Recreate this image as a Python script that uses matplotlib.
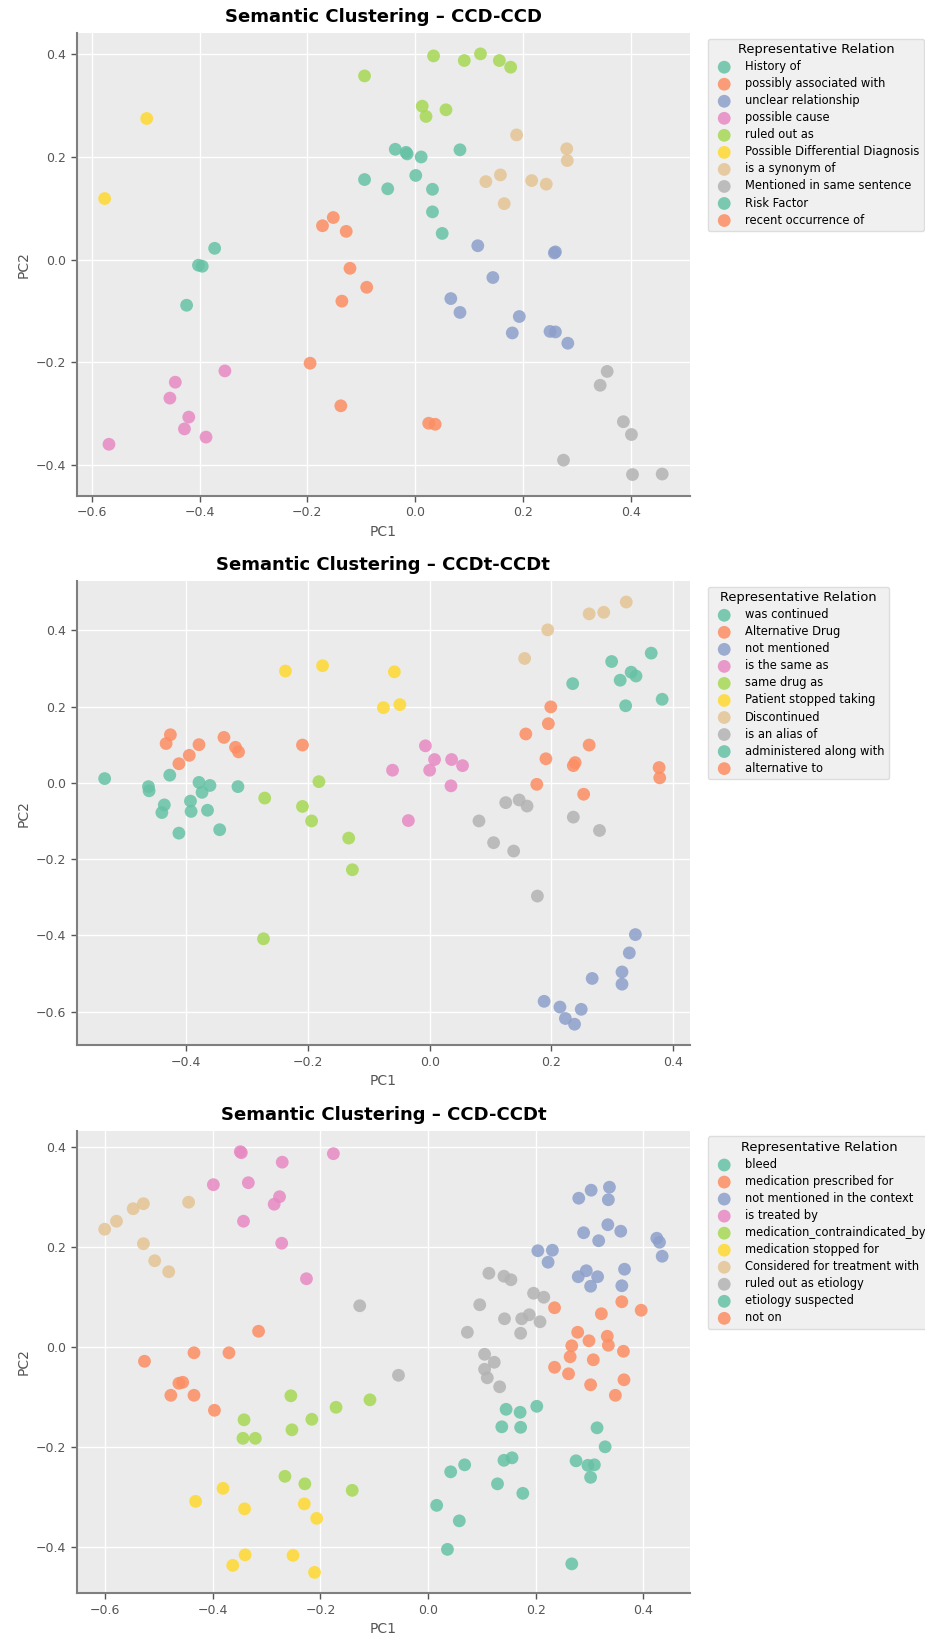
import matplotlib
matplotlib.use("Agg")
import matplotlib.pyplot as plt

# Set2 palette (wraps after 8 relations)
palette = ['#66c2a5', '#fc8d62', '#8da0cb', '#e78ac3', '#a6d854', '#ffd92f', '#e5c494', '#b3b3b3']

# ---- CCD-CCD ----
ccd_labels = ['History of', 'possibly associated with', 'unclear relationship', 'possible cause',
              'ruled out as', 'Possible Differential Diagnosis', 'is a synonym of',
              'Mentioned in same sentence', 'Risk Factor', 'recent occurrence of']
ccd_x = [
    [-0.037, -0.017, -0.015, 0.011, 0.083, -0.094, 0.001, -0.051, 0.032, 0.032, 0.050],
    [-0.152, -0.172, -0.128, -0.121, -0.090, -0.136],
    [0.116, 0.258, 0.260, 0.144, 0.066, 0.083, 0.193, 0.180, 0.250, 0.260, 0.283],
    [-0.353, -0.445, -0.455, -0.420, -0.428, -0.388, -0.568],
    [0.034, 0.121, 0.091, 0.156, 0.177, -0.094, 0.013, 0.057, 0.020],
    [-0.498, -0.576],
    [0.188, 0.281, 0.282, 0.158, 0.131, 0.216, 0.243, 0.165],
    [0.356, 0.343, 0.386, 0.401, 0.275, 0.403, 0.458],
    [-0.372, -0.402, -0.395, -0.424],
    [-0.195, -0.138, 0.025, 0.037],
]
ccd_y = [
    [0.215, 0.209, 0.206, 0.200, 0.214, 0.156, 0.164, 0.138, 0.137, 0.093, 0.051],
    [0.082, 0.066, 0.055, -0.017, -0.054, -0.081],
    [0.027, 0.013, 0.015, -0.035, -0.076, -0.103, -0.111, -0.143, -0.140, -0.141, -0.163],
    [-0.217, -0.239, -0.270, -0.307, -0.330, -0.346, -0.360],
    [0.397, 0.401, 0.388, 0.388, 0.375, 0.358, 0.299, 0.292, 0.279],
    [0.275, 0.119],
    [0.243, 0.216, 0.193, 0.165, 0.152, 0.154, 0.147, 0.109],
    [-0.218, -0.245, -0.316, -0.341, -0.391, -0.419, -0.418],
    [0.022, -0.011, -0.013, -0.089],
    [-0.202, -0.285, -0.319, -0.321],
]

# ---- CCDt-CCDt ----
ccdt_labels = ['was continued', 'Alternative Drug', 'not mentioned', 'is the same as', 'same drug as',
               'Patient stopped taking', 'Discontinued', 'is an alias of',
               'administered along with', 'alternative to']
ccdt_x = [
    [-0.534, -0.462, -0.461, -0.427, -0.436, -0.440, -0.379, -0.361, -0.374, -0.393, -0.392, -0.365,
     -0.315, -0.412, -0.345],
    [-0.426, -0.433, -0.379, -0.395, -0.412, -0.338, -0.319, -0.314, -0.209],
    [0.338, 0.328, 0.316, 0.316, 0.267, 0.188, 0.214, 0.223, 0.238, 0.249],
    [-0.007, 0.008, 0.036, 0.054, -0.061, 0.000, 0.035, -0.035],
    [-0.182, -0.271, -0.209, -0.194, -0.133, -0.127, -0.273],
    [-0.237, -0.176, -0.058, -0.076, -0.049],
    [0.323, 0.262, 0.286, 0.194, 0.156],
    [0.125, 0.147, 0.160, 0.081, 0.236, 0.279, 0.105, 0.138, 0.177],
    [0.235, 0.299, 0.313, 0.331, 0.339, 0.364, 0.322, 0.382],
    [0.199, 0.195, 0.158, 0.262, 0.191, 0.236, 0.239, 0.377, 0.378, 0.176, 0.253],
]
ccdt_y = [
    [0.011, -0.010, -0.021, 0.020, -0.058, -0.078, 0.001, -0.007, -0.025, -0.048, -0.075, -0.072,
     -0.010, -0.132, -0.123],
    [0.126, 0.103, 0.100, 0.072, 0.050, 0.119, 0.093, 0.081, 0.099],
    [-0.398, -0.446, -0.496, -0.528, -0.513, -0.573, -0.588, -0.618, -0.633, -0.594],
    [0.097, 0.061, 0.061, 0.045, 0.033, 0.033, -0.008, -0.099],
    [0.003, -0.040, -0.062, -0.100, -0.145, -0.228, -0.409],
    [0.293, 0.307, 0.291, 0.197, 0.205],
    [0.474, 0.443, 0.447, 0.401, 0.326],
    [-0.052, -0.045, -0.061, -0.100, -0.090, -0.125, -0.157, -0.179, -0.297],
    [0.260, 0.318, 0.269, 0.290, 0.280, 0.340, 0.202, 0.219],
    [0.199, 0.155, 0.128, 0.099, 0.063, 0.045, 0.053, 0.040, 0.013, -0.004, -0.030],
]

# ---- CCD-CCDt ----
mix_labels = ['bleed', 'medication prescribed for', 'not mentioned in the context', 'is treated by',
              'medication_contraindicated_by', 'medication stopped for',
              'Considered for treatment with', 'ruled out as etiology', 'etiology suspected', 'not on']
mix_x = [
    [0.068, 0.042, 0.129, 0.176, 0.016, 0.058, 0.036, 0.267],
    [-0.315, -0.435, -0.370, -0.527, -0.463, -0.456, -0.478, -0.435, -0.397],
    [0.280, 0.303, 0.337, 0.335, 0.334, 0.289, 0.317, 0.358, 0.425, 0.430, 0.435, 0.204, 0.231,
     0.223, 0.279, 0.294, 0.315, 0.302, 0.365, 0.360],
    [-0.349, -0.347, -0.176, -0.271, -0.399, -0.334, -0.276, -0.286, -0.343, -0.272, -0.226],
    [-0.255, -0.171, -0.108, -0.342, -0.216, -0.253, -0.344, -0.321, -0.266, -0.229, -0.141],
    [-0.381, -0.432, -0.341, -0.230, -0.207, -0.340, -0.251, -0.363, -0.211],
    [-0.601, -0.579, -0.548, -0.529, -0.445, -0.529, -0.508, -0.482],
    [-0.127, 0.113, 0.141, 0.154, 0.196, 0.215, 0.096, 0.142, 0.174, 0.188, 0.208, 0.172, 0.073,
     0.105, 0.123, 0.105, 0.110, 0.133, -0.055],
    [0.145, 0.171, 0.202, 0.137, 0.172, 0.314, 0.329, 0.275, 0.297, 0.309, 0.302, 0.156, 0.141],
    [0.235, 0.360, 0.396, 0.322, 0.278, 0.333, 0.267, 0.299, 0.335, 0.363, 0.264, 0.307, 0.235,
     0.261, 0.302, 0.364, 0.348],
]
mix_y = [
    [-0.236, -0.250, -0.274, -0.293, -0.317, -0.348, -0.405, -0.434],
    [0.031, -0.012, -0.012, -0.029, -0.073, -0.071, -0.097, -0.097, -0.127],
    [0.297, 0.313, 0.319, 0.294, 0.244, 0.228, 0.212, 0.231, 0.217, 0.209, 0.181, 0.192, 0.193,
     0.169, 0.140, 0.152, 0.140, 0.121, 0.155, 0.122],
    [0.390, 0.388, 0.386, 0.369, 0.324, 0.328, 0.300, 0.285, 0.251, 0.207, 0.136],
    [-0.098, -0.121, -0.106, -0.146, -0.145, -0.166, -0.183, -0.183, -0.259, -0.274, -0.287],
    [-0.283, -0.309, -0.324, -0.314, -0.343, -0.416, -0.417, -0.437, -0.451],
    [0.235, 0.251, 0.276, 0.286, 0.289, 0.206, 0.172, 0.150],
    [0.082, 0.147, 0.141, 0.134, 0.107, 0.099, 0.084, 0.056, 0.056, 0.064, 0.050, 0.027, 0.029,
     -0.015, -0.031, -0.045, -0.062, -0.080, -0.057],
    [-0.125, -0.131, -0.119, -0.160, -0.161, -0.162, -0.200, -0.228, -0.237, -0.236, -0.261, -0.222,
     -0.227],
    [0.078, 0.090, 0.073, 0.066, 0.029, 0.021, 0.002, 0.012, 0.003, -0.009, -0.020, -0.026, -0.041,
     -0.054, -0.076, -0.066, -0.097],
]

panels = [
    ("Semantic Clustering \u2013 CCD-CCD", ccd_labels, ccd_x, ccd_y),
    ("Semantic Clustering \u2013 CCDt-CCDt", ccdt_labels, ccdt_x, ccdt_y),
    ("Semantic Clustering \u2013 CCD-CCDt", mix_labels, mix_x, mix_y),
]

fig = plt.figure(figsize=(9.25, 16.41), dpi=100)
# axes rectangles [left, bottom, width, height]
rects = [[0.083, 0.698, 0.663, 0.282],
         [0.083, 0.363, 0.663, 0.283],
         [0.083, 0.029, 0.663, 0.282]]

for rect, (title, labels, xs, ys) in zip(rects, panels):
    ax = fig.add_axes(rect)
    ax.set_facecolor('#ebebeb')
    ax.grid(True, color='white', linewidth=1.0)
    ax.set_axisbelow(True)

    for i, lab in enumerate(labels):
        ax.scatter(xs[i], ys[i], s=85, color=palette[i % len(palette)], alpha=0.85,
                   edgecolors='none', label=lab)

    ax.set_title(title, fontsize=13, fontweight='bold', pad=8)
    ax.set_xlabel("PC1", fontsize=10, color='#555555')
    ax.set_ylabel("PC2", fontsize=10, color='#555555')
    ax.tick_params(colors='#555555', labelsize=9, length=4, width=1)
    for side in ['top', 'right']:
        ax.spines[side].set_visible(False)
    for side in ['left', 'bottom']:
        ax.spines[side].set_color('#7f7f7f')
        ax.spines[side].set_linewidth(1.5)

    leg = ax.legend(title="Representative Relation", loc='upper left', bbox_to_anchor=(1.02, 1),
                    fontsize=8.3, title_fontsize=9.4, labelspacing=0.35, frameon=True,
                    facecolor='#f0f0f0', edgecolor='#dddddd', framealpha=1.0)

plt.savefig("out.png", dpi=100)
